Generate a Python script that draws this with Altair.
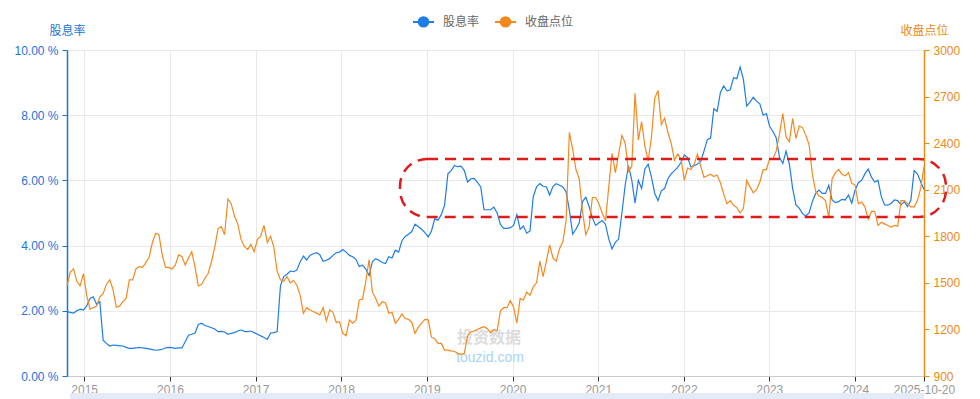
import altair as alt
import pandas as pd

SERIES = ["股息率", "收盘点位"]
START = "2015-10-19"
END = "2025-10-20"
N = 262

# dividend yield (%) every 14 days
yields = [
    1.97, 1.95, 1.93, 2.00, 2.05, 2.02, 2.15, 2.38, 2.43, 2.20,
    2.28, 1.10, 1.00, 0.92, 0.95, 0.94, 0.93, 0.92, 0.88, 0.85,
    0.85, 0.86, 0.88, 0.86, 0.85, 0.83, 0.81, 0.79, 0.80, 0.82,
    0.86, 0.88, 0.87, 0.85, 0.86, 0.86, 1.05, 1.25, 1.28, 1.32,
    1.58, 1.62, 1.55, 1.52, 1.48, 1.44, 1.36, 1.37, 1.35, 1.28,
    1.31, 1.33, 1.38, 1.41, 1.37, 1.36, 1.38, 1.33, 1.28, 1.23,
    1.18, 1.12, 1.32, 1.33, 1.36, 2.76, 3.05, 3.12, 3.22, 3.20,
    3.25, 3.50, 3.68, 3.56, 3.70, 3.75, 3.78, 3.72, 3.52, 3.55,
    3.60, 3.70, 3.78, 3.80, 3.88, 3.80, 3.70, 3.66, 3.58, 3.36,
    3.40, 3.28, 3.08, 3.50, 3.60, 3.55, 3.48, 3.45, 3.66, 3.62,
    3.86, 3.80, 4.15, 4.28, 4.35, 4.43, 4.66, 4.58, 4.50, 4.40,
    4.27, 4.45, 4.82, 4.78, 4.95, 5.25, 6.20, 6.30, 6.46, 6.42,
    6.44, 6.30, 5.95, 6.05, 6.06, 5.94, 5.80, 5.10, 5.10, 5.10,
    5.18, 5.00, 4.65, 4.53, 4.53, 4.55, 4.62, 4.95, 4.50, 4.60,
    4.38, 4.45, 5.50, 5.80, 5.90, 5.82, 5.80, 5.55, 5.82, 5.90,
    5.85, 5.80, 5.65, 5.09, 4.35, 4.50, 4.70, 5.35, 5.48, 5.20,
    4.85, 4.62, 4.70, 4.77, 4.65, 4.20, 3.90, 4.10, 4.20, 5.00,
    5.86, 6.45, 6.01, 5.30, 6.00, 5.75, 6.35, 6.50, 6.10, 5.60,
    5.38, 5.68, 5.75, 6.05, 6.20, 6.30, 6.40, 6.55, 6.78, 6.70,
    6.42, 6.45, 6.50, 6.58, 6.90, 7.25, 7.30, 8.20, 8.12, 8.70,
    8.90, 8.75, 8.78, 9.15, 9.12, 9.48, 9.10, 8.28, 8.40, 8.55,
    8.43, 8.35, 8.00, 8.05, 7.65, 7.50, 7.30, 6.70, 6.52, 6.90,
    6.50, 5.75, 5.25, 5.15, 4.98, 4.91, 5.00, 5.35, 5.60, 5.70,
    5.60, 5.60, 5.85, 5.40, 5.32, 5.35, 5.42, 5.40, 5.55, 5.30,
    5.70, 5.93, 6.00, 6.20, 6.35, 6.10, 5.95, 6.00, 5.50, 5.25,
    5.24, 5.30, 5.40, 5.38, 5.25, 5.35, 5.20, 5.40, 6.30, 6.20,
    5.95, 5.72,
]

# closing index level every 14 days
closes = [
    1480, 1570, 1590, 1510, 1480, 1560, 1420, 1330, 1340, 1350,
    1410, 1430, 1490, 1520, 1460, 1343, 1350, 1379, 1400, 1520,
    1519, 1590, 1604, 1600, 1630, 1665, 1760, 1819, 1810, 1680,
    1600, 1600, 1590, 1615, 1680, 1670, 1615, 1660, 1700, 1600,
    1480, 1490, 1530, 1562, 1636, 1730, 1850, 1862, 1810, 2040,
    2010, 1930, 1880, 1780, 1735, 1715, 1748, 1700, 1780, 1800,
    1870, 1760, 1800, 1730, 1575, 1520, 1510, 1540, 1500, 1515,
    1485, 1420, 1304, 1340, 1325, 1315, 1305, 1293, 1340, 1255,
    1325, 1310, 1245, 1250, 1175, 1160, 1261, 1240, 1260, 1390,
    1395, 1510, 1650, 1440, 1401, 1350, 1378, 1370, 1304, 1310,
    1240, 1265, 1300, 1270, 1265, 1245, 1175, 1215, 1240, 1265,
    1262, 1150, 1140, 1110, 1110, 1067, 1067, 1062, 1058, 1046,
    1040, 1046, 1160, 1185, 1190, 1200, 1210, 1218, 1205, 1180,
    1200, 1190, 1320, 1340, 1340, 1385, 1345, 1240, 1400, 1390,
    1440, 1420, 1475, 1500, 1640, 1540, 1640, 1745, 1660, 1640,
    1720, 1765, 1900, 2470, 2360, 2230, 2170, 1960, 1810, 1860,
    2050, 2050, 2010, 1950, 1900, 2120, 2335, 2210, 2330, 2450,
    2400, 2220, 2250, 2721, 2420, 2538, 2380, 2285, 2440, 2690,
    2740, 2520, 2560, 2470, 2400, 2290, 2330, 2300, 2160, 2240,
    2230, 2265, 2330, 2250, 2180, 2190, 2200, 2185, 2195, 2145,
    2070, 2010, 2030, 2000, 1985, 1950, 1980, 2160, 2120, 2080,
    2100, 2150, 2230, 2230, 2300, 2300, 2350, 2460, 2590, 2440,
    2410, 2560, 2430, 2510, 2500, 2450, 2390, 2200, 2090, 2060,
    2050, 2030, 1920, 2170, 2210, 2230, 2200, 2190, 2210, 2141,
    2130, 2010, 2020, 1990, 1910, 1960, 1960, 1870, 1890, 1880,
    1870, 1860, 1870, 1865, 2030, 2030, 2010, 1990, 1990, 2030,
    2110, 2248,
]

year_ticks = [2015, 2016, 2017, 2018, 2019, 2020, 2021, 2022, 2023, 2024]
left_ticks = [0, 2, 4, 6, 8, 10]
right_ticks = [900, 1200, 1500, 1800, 2100, 2400, 2700, 3000]

BLUE = "#1e7de6"
ORANGE = "#f5891f"
BLUE_AX = "#1a74dc"
ORANGE_AX = "#ec8a14"
FONT = "Liberation Sans, Noto Sans CJK SC, sans-serif"

dates = pd.date_range(end=END, periods=N, freq="14D")
df = pd.DataFrame({
    "date": list(dates) * 2,
    "value": yields + closes,
    "series": [SERIES[0]] * N + [SERIES[1]] * N,
})
one = pd.DataFrame({"k": [0]})

x_values = [alt.DateTime(year=y, month=12, date=31) for y in year_ticks] + [
    alt.DateTime(year=2025, month=10, date=20)
]

x_enc = alt.X(
    "date:T",
    scale=alt.Scale(domain=[alt.DateTime(year=2015, month=10, date=19),
                            alt.DateTime(year=2025, month=10, date=20)]),
    axis=alt.Axis(
        orient="bottom", title=None, values=x_values,
        labelExpr="timeFormat(datum.value, '%Y-%m-%d') == '2025-10-20' ? '2025-10-20' : timeFormat(datum.value, '%Y')",
        labelFlush=False, labelOverlap=False, labelColor="#999999", labelFontSize=12,
        labelPadding=3, tickColor="#333333", tickSize=5, domainColor="#cccccc",
        grid=True, gridColor="#e9e9e9",
    ),
)

SYMBOL = ("M-1,0L1,0"
          "M-0.45,0a0.45,0.45 0 1,0 0.9,0a0.45,0.45 0 1,0 -0.9,0"
          "M-0.3,0a0.3,0.3 0 1,0 0.6,0a0.3,0.3 0 1,0 -0.6,0"
          "M-0.15,0a0.15,0.15 0 1,0 0.3,0a0.15,0.15 0 1,0 -0.3,0"
          "M-0.05,0a0.05,0.05 0 1,0 0.1,0a0.05,0.05 0 1,0 -0.1,0")

color_enc = alt.Color(
    "series:N",
    scale=alt.Scale(domain=SERIES, range=[BLUE, ORANGE]),
    sort=SERIES,
    legend=alt.Legend(
        title=None, orient="none", direction="horizontal", legendX=345, legendY=-40,
        symbolType=SYMBOL, symbolSize=441, symbolStrokeWidth=2,
        labelFontSize=12, labelColor="#666666", labelOffset=8, columnPadding=11,
        padding=0,
    ),
)

watermark1 = alt.Chart(one).mark_text(
    text="投资数据", fontSize=16, fontWeight="bold", color="#dcdcdc", font=FONT
).encode(x=alt.value(422), y=alt.value(288))
watermark2 = alt.Chart(one).mark_text(
    text="touzid.com", fontSize=14, color="#a9d4f2", font=FONT
).encode(x=alt.value(423), y=alt.value(308))

strip = alt.Chart(one).mark_rect(color="#e4ebf7").encode(
    x=alt.value(3), x2=alt.value(857), y=alt.value(343), y2=alt.value(355)
)

blue_line = alt.Chart(df).transform_filter(alt.datum.series == SERIES[0]).mark_line(
    strokeWidth=1.2
).encode(
    x=x_enc,
    y=alt.Y("value:Q", scale=alt.Scale(domain=[0, 10]),
            axis=alt.Axis(
                orient="left", values=left_ticks,
                labelExpr="format(datum.value, '.2f') + ' %'",
                labelColor=BLUE_AX, labelFontSize=12, labelPadding=4,
                domainColor=BLUE_AX, domainWidth=1.5, tickColor=BLUE_AX, tickSize=5,
                grid=True, gridColor="#e9e9e9",
                title="股息率", titleAngle=0, titleX=0, titleY=-20,
                titleAlign="center", titleBaseline="middle", titleColor=BLUE_AX,
                titleFontSize=12, titleFontWeight="normal",
            )),
    color=color_enc,
)

orange_line = alt.Chart(df).transform_filter(alt.datum.series == SERIES[1]).mark_line(
    strokeWidth=1.2
).encode(
    x=x_enc,
    y=alt.Y("value:Q", scale=alt.Scale(domain=[900, 3000]),
            axis=alt.Axis(
                orient="right", values=right_ticks, format="d",
                labelColor=ORANGE_AX, labelFontSize=12, labelPadding=4,
                domainColor=ORANGE_AX, domainWidth=1.5, tickColor=ORANGE_AX, tickSize=5,
                grid=False,
                title="收盘点位", titleAngle=0, titleX=0, titleY=-20,
                titleAlign="center", titleBaseline="middle", titleColor=ORANGE_AX,
                titleFontSize=12, titleFontWeight="normal",
            )),
    color=color_enc,
)

box = alt.Chart(one).mark_rect(
    fill="transparent", stroke="#e01b1b", strokeWidth=2.5, strokeDash=[11, 7],
    cornerRadius=27,
).encode(x=alt.value(333), x2=alt.value(879), y=alt.value(109), y2=alt.value(167))

chart = alt.layer(
    watermark1, watermark2, strip, blue_line, orange_line, box
).resolve_scale(y="independent").properties(
    width=857, height=326,
    autosize=alt.AutoSizeParams(type="none"),
    padding={"left": 59, "top": 42, "right": 48, "bottom": 23},
).configure(font=FONT).configure_view(stroke=None)

chart.save("out.html", embed_options={"renderer": "svg", "actions": False})
